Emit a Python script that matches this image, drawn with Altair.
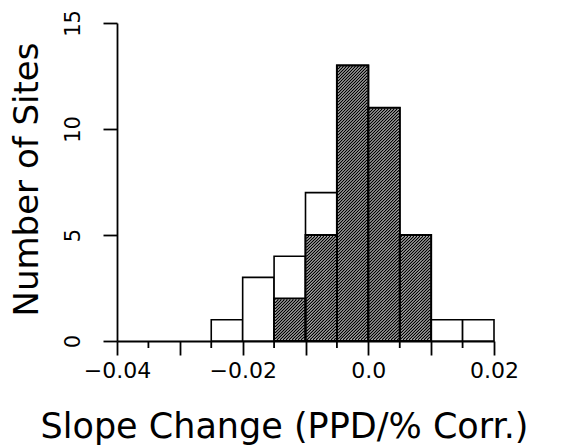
import math
import altair as alt
import numpy as np
import pandas as pd

# ---- data ----
bin_start = [-0.025, -0.02, -0.015, -0.01, -0.005, 0.0, 0.005, 0.01, 0.015]
bin_width = 0.005
all_sites = [1, 3, 4, 7, 13, 11, 5, 1, 1]
hatched_sites = [0, 0, 2, 5, 13, 11, 5, 0, 0]
x_major = [-0.04, -0.03, -0.02, -0.01, 0.0, 0.01, 0.02]
x_minor = [-0.035, -0.025, -0.015, -0.005, 0.005, 0.015]
y_ticks = [0, 5, 10, 15]

W, H = 377, 318
XMIN, XMAX, YMAX = -0.04, 0.02, 15
FONT = "DejaVu Sans"

bars = pd.DataFrame({
    "x0": bin_start,
    "x1": [round(b + bin_width, 4) for b in bin_start],
    "n": all_sites,
    "h": hatched_sites,
    "zero": [0] * len(bin_start),
})
hbars = bars[bars["h"] > 0].copy()
hbars["n"] = hbars["h"]

# hatch lines derived from hatched bars (45 degree, 3 px spacing)
sx = W / (XMAX - XMIN)
sy = H / YMAX
segs = []
inset = 0.9
for _, r in hbars.iterrows():
    X0 = (r.x0 - XMIN) * sx + inset
    X1 = (r.x1 - XMIN) * sx - inset
    B = inset
    T = r.h * sy - inset
    c = math.floor((X0 - T) / 3.0) * 3.0
    while c < X1:
        xs = max(X0, c + B)
        xe = min(X1, c + T)
        if xe > xs:
            segs.append({
                "x0": XMIN + xs / sx, "x1": XMIN + xe / sx,
                "n": (xs - c) / sy, "n2": (xe - c) / sy,
            })
        c += 3.0
hatch = pd.DataFrame(segs)
minor = pd.DataFrame({"x0": x_minor})

x_axis = alt.Axis(
    title="Slope Change (PPD/% Corr.)",
    values=x_major,
    tickSize=14,
    tickWidth=1.8,
    tickColor="black",
    domainColor="black",
    domainWidth=1.8,
    grid=False,
    labelExpr="abs(round(datum.value*1000)) % 20 == 0 ? (datum.value == 0 ? '0.0' : format(datum.value, '.2f')) : ''",
    labelFont=FONT,
    labelFontSize=22,
    labelColor="black",
    labelBaseline="alphabetic",
    labelPadding=22,
    labelFlush=False,
    labelOverlap=False,
    titleFont=FONT,
    titleFontSize=35,
    titleFontWeight="normal",
    titleColor="black",
    titleX=167,
    titleY=96,
    titleAlign="center",
    titleBaseline="alphabetic",
)
y_axis = alt.Axis(
    title="Number of Sites",
    values=y_ticks,
    tickSize=14,
    tickWidth=1.8,
    tickColor="black",
    domainColor="black",
    domainWidth=1.8,
    grid=False,
    labelAngle=-90,
    labelAlign="center",
    labelBaseline="alphabetic",
    labelPadding=24,
    labelFont=FONT,
    labelFontSize=21,
    labelColor="black",
    labelFlush=False,
    titleFont=FONT,
    titleFontSize=34,
    titleFontWeight="normal",
    titleColor="black",
    titleAngle=-90,
    titleX=-80,
    titleY=156,
    titleAlign="center",
    titleBaseline="alphabetic",
)
xs_ = alt.Scale(domain=[XMIN, XMAX], nice=False, zero=False)
ys_ = alt.Scale(domain=[0, YMAX], nice=False)

def X():
    return alt.X("x0:Q", scale=xs_, axis=x_axis)

def Y():
    return alt.Y("n:Q", scale=ys_, axis=y_axis)

open_bars = alt.Chart(bars).mark_rect(fill="white", stroke="black", strokeWidth=1.6).encode(
    x=X(), x2="x1:Q", y=Y(), y2="zero:Q"
)
hatch_lines = alt.Chart(hatch).mark_rule(color="black", strokeWidth=1.4).encode(
    x=X(), x2="x1:Q", y=Y(), y2="n2:Q"
)
hatch_outline = alt.Chart(hbars).mark_rect(fill="transparent", stroke="black", strokeWidth=2).encode(
    x=X(), x2="x1:Q", y=Y(), y2="zero:Q"
)
minor_ticks = alt.Chart(minor).mark_rule(color="black", strokeWidth=1.8).encode(
    x=X(), y=alt.value(H), y2=alt.value(H + 7)
)

chart = alt.layer(open_bars, hatch_lines, hatch_outline, minor_ticks).properties(
    width=W,
    height=H,
    autosize=alt.AutoSizeParams(type="none"),
    padding={"left": 117, "top": 23, "right": 80, "bottom": 106},
    background="white",
).configure_view(stroke=None)

chart.save("out.html", embed_options={"renderer": "svg", "actions": False})
